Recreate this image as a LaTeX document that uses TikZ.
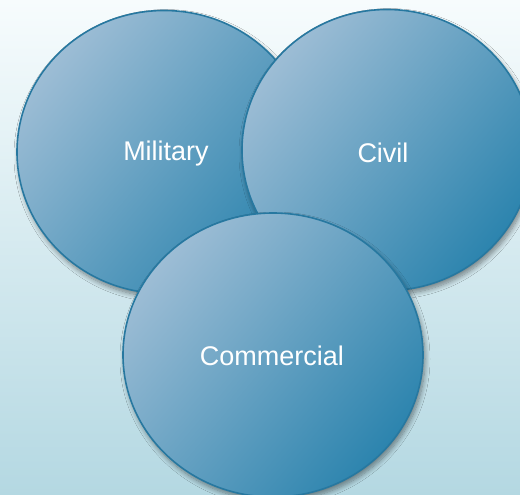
\documentclass[tikz,border=0pt]{standalone}
\usepackage{fontspec}
\setmainfont{Liberation Sans}
\usetikzlibrary{shapes.geometric,shadows.blur}
\definecolor{bgtop}{HTML}{F7FCFD}
\definecolor{bgbot}{HTML}{B4D8E2}
\definecolor{clight}{HTML}{9DBDD5}
\definecolor{cdark}{HTML}{2C84AE}
\definecolor{cedge}{HTML}{2778A0}
\tikzset{
  venn/.style={ellipse, draw=cedge, line width=1.6pt,
    top color=clight, bottom color=cdark, shading angle=50,
    text=white, font=\fontsize{27}{32}\selectfont,
    blur shadow={shadow xshift=2pt, shadow yshift=-4pt, shadow blur steps=10, shadow opacity=45, shadow blur radius=5pt}}
}
\begin{document}
\begin{tikzpicture}[x=1pt,y=-1pt]
  \shade[top color=bgtop, bottom color=bgbot] (0,0) rectangle (520,495);
  \useasboundingbox (0,0) rectangle (520,495);
  \node[venn, minimum width=294pt, minimum height=283pt] (mil) at (164,152) {};
  \node[venn, minimum width=290pt, minimum height=281pt] (civ) at (387,150) {};
  \node[venn, minimum width=300pt, minimum height=284pt] (com) at (273,355) {};
  \node[text=white, font=\fontsize{27}{32}\selectfont] (milt) at (166,154) {Military};
  \node[text=white, font=\fontsize{27}{32}\selectfont] (civt) at (383,153) {Civil};
  \node[text=white, font=\fontsize{27}{32}\selectfont] (comt) at (272,356) {Commercial};
\end{tikzpicture}
\end{document}
